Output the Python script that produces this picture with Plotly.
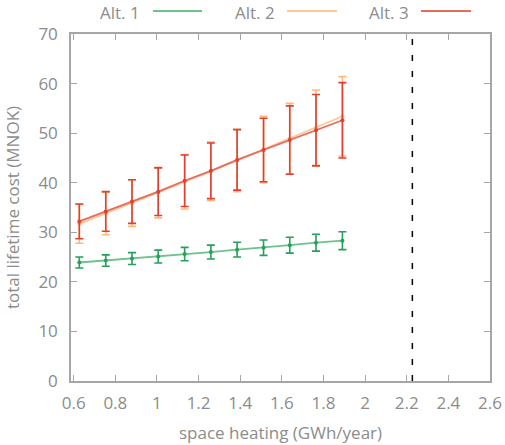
import plotly.graph_objects as go

# Space heating demand (GWh/year)
heating = [0.627, 0.754, 0.880, 1.006, 1.133, 1.259, 1.385, 1.512, 1.638, 1.764, 1.891]

# Total lifetime cost (MNOK) and spread for each alternative
alt1_cost = [23.9, 24.3, 24.7, 25.1, 25.6, 26.0, 26.5, 26.9, 27.4, 27.9, 28.3]
alt1_err = [1.1, 1.15, 1.2, 1.3, 1.35, 1.4, 1.5, 1.55, 1.6, 1.7, 1.8]

alt2_cost = [31.7, 33.8, 35.9, 38.0, 40.2, 42.3, 44.5, 46.7, 48.9, 51.1, 53.4]
alt2_err = [3.9, 4.3, 4.7, 5.1, 5.5, 5.9, 6.3, 6.7, 7.1, 7.6, 8.0]

alt3_cost = [32.2, 34.2, 36.2, 38.2, 40.4, 42.4, 44.6, 46.6, 48.6, 50.6, 52.6]
alt3_err = [3.5, 4.0, 4.4, 4.8, 5.2, 5.6, 6.1, 6.4, 6.9, 7.2, 7.6]

series_names = ["Alt. 1", "Alt. 2", "Alt. 3"]
line_colors = ["#6cc38c", "#fdc996", "#ea6a5e"]
bar_colors = ["#26a05a", "#fdb97a", "#e0402f"]

# Vertical reference line position (GWh/year)
limit_heating = 2.227

x_ticks = [0.6, 0.8, 1.0, 1.2, 1.4, 1.6, 1.8, 2.0, 2.2, 2.4, 2.6]
x_tick_text = ["0.6", "0.8", "1", "1.2", "1.4", "1.6", "1.8", "2", "2.2", "2.4", "2.6"]
y_ticks = [0, 10, 20, 30, 40, 50, 60, 70]

FONT = "Open Sans"
FSIZE = 17
GREY = "#8c8c8c"
AXIS_GREY = "#a6a6a6"

W, H = 505, 445
L, R, T, B = 71, 15, 34, 64

fig = go.Figure()

for name, cost, err, lc, bc in zip(series_names,
                                   [alt1_cost, alt2_cost, alt3_cost],
                                   [alt1_err, alt2_err, alt3_err],
                                   line_colors, bar_colors):
    fig.add_trace(go.Scatter(
        x=heating, y=cost, name=name, mode="lines+markers",
        line=dict(color=lc, width=1.8),
        marker=dict(color=bc, size=4),
        error_y=dict(type="data", array=err, visible=True,
                     color=bc, thickness=1.6, width=4),
        showlegend=False,
    ))

fig.add_shape(type="line", xref="x", yref="y",
              x0=limit_heating, x1=limit_heating, y0=0, y1=70,
              line=dict(color="black", width=1.5, dash="6px,10px"))

# Legend drawn as label followed by a line sample
pw, ph = W - L - R, H - T - B
legend_text_x = [120, 255, 389]
legend_line_x = [(153, 202), (287, 337), (421, 471)]
for name, tx, (l0, l1), lc in zip(series_names, legend_text_x, legend_line_x, line_colors):
    fig.add_annotation(xref="paper", yref="paper",
                       x=(tx - L) / pw, y=(H - B - 12) / ph,
                       text=name, showarrow=False,
                       font=dict(family=FONT, size=FSIZE, color=GREY),
                       xanchor="center", yanchor="middle")
    fig.add_shape(type="line", xref="paper", yref="paper",
                  x0=(l0 - L) / pw, x1=(l1 - L) / pw,
                  y0=(H - B - 11) / ph, y1=(H - B - 11) / ph,
                  line=dict(color=lc, width=2))

axis_common = dict(
    showline=True, linecolor=AXIS_GREY, linewidth=1.5,
    mirror="ticks", ticks="inside", ticklen=6, tickwidth=1.2,
    tickcolor=AXIS_GREY, showgrid=False, zeroline=False, automargin=False,
    tickfont=dict(family=FONT, size=FSIZE, color=GREY),
)

fig.update_xaxes(range=[0.587, 2.6], tickvals=x_ticks, ticktext=x_tick_text,
                 title=dict(text="space heating (GWh/year)", standoff=14,
                            font=dict(family=FONT, size=FSIZE, color=GREY)),
                 ticklabelstandoff=6, **axis_common)
fig.update_yaxes(range=[0, 70], tickvals=y_ticks,
                 title=dict(text="total lifetime cost (MNOK)", standoff=14,
                            font=dict(family=FONT, size=FSIZE, color=GREY)),
                 ticklabelstandoff=8, **axis_common)

fig.update_layout(
    width=W, height=H,
    margin=dict(l=L, r=R, t=T, b=B),
    plot_bgcolor="white", paper_bgcolor="white",
    font=dict(family=FONT, color=GREY),
)

fig.write_html("out.html")
